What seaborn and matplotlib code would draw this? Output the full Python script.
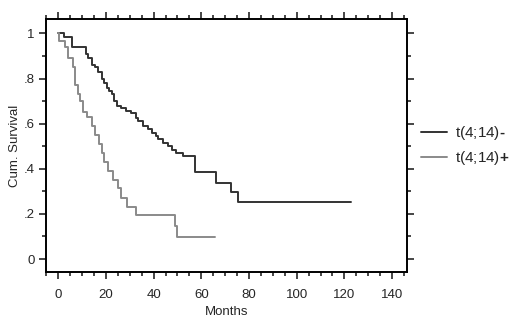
import matplotlib
matplotlib.use("Agg")
import matplotlib.pyplot as plt
import seaborn as sns
import pandas as pd
from matplotlib.ticker import MultipleLocator, FixedLocator, FixedFormatter

sns.set_style("ticks")
plt.rcParams['font.family'] = ['Liberation Sans', 'DejaVu Sans']
plt.rcParams['mathtext.fontset'] = 'custom'
plt.rcParams['mathtext.bf'] = 'Liberation Sans:bold'

# t(4;14)- : step times (months) and survival after step
neg_time = [0, 2.5, 5.7, 11.7, 12.7, 14.3, 15.3, 16.8, 18.3, 19.4, 20.4, 21.4, 22.4, 23.4, 24.5, 26.5,
            28.5, 30.6, 32.6, 33.6, 35.7, 37.7, 39.2, 40.8, 41.8, 43.8, 45.9, 47.9, 49.4, 52.5, 57.4,
            66.3, 72.4, 75.4, 122.7]
neg_surv = [1.0, 0.985, 0.94, 0.91, 0.89, 0.86, 0.85, 0.83, 0.80, 0.78, 0.76, 0.745, 0.73, 0.70, 0.68,
            0.67, 0.655, 0.645, 0.625, 0.61, 0.59, 0.575, 0.56, 0.545, 0.53, 0.515, 0.50, 0.485, 0.47,
            0.455, 0.387, 0.338, 0.298, 0.253, 0.253]

# t(4;14)+ : step times (months) and survival after step
pos_time = [0, 0.5, 3, 4.1, 6.1, 7.1, 8.2, 9.2, 10.2, 12.2, 14.3, 15.3, 17.3, 18.3, 19.4, 20.9, 22.9,
            25.0, 26.5, 29.0, 32.6, 49.0, 50.0, 65.7]
pos_surv = [1.0, 0.965, 0.94, 0.89, 0.85, 0.77, 0.73, 0.70, 0.65, 0.63, 0.59, 0.55, 0.51, 0.47,
            0.43, 0.39, 0.35, 0.315, 0.27, 0.23, 0.195, 0.145, 0.098, 0.098]

groups = ["t(4;14)$\\mathbf{\u2010}$", "t(4;14)$\\mathbf{+}$"]
colors = ["#333333", "#8a8a8a"]

df = pd.concat([
    pd.DataFrame({"Months": neg_time, "Surv": neg_surv, "group": groups[0]}),
    pd.DataFrame({"Months": pos_time, "Surv": pos_surv, "group": groups[1]}),
])

fig = plt.figure(figsize=(5.2, 3.2), dpi=100)
ax = fig.add_axes([0.0885, 0.15, 0.694, 0.79])

sns.lineplot(data=df, x="Months", y="Surv", hue="group", palette=colors,
             drawstyle="steps-post", linewidth=1.4, estimator=None, sort=True, ax=ax)

ax.set_xlim(-5.1, 146.2)
ax.set_ylim(-0.0576, 1.063)
ax.xaxis.set_major_locator(MultipleLocator(20))
ax.xaxis.set_minor_locator(MultipleLocator(5))
ax.yaxis.set_major_locator(FixedLocator([0, 0.2, 0.4, 0.6, 0.8, 1.0]))
ax.yaxis.set_major_formatter(FixedFormatter(["0", ".2", ".4", ".6", ".8", "1"]))
ax.yaxis.set_minor_locator(MultipleLocator(0.1))

ax.tick_params(which="both", direction="out", top=True, right=True, width=1.2, labelsize=9.5,
               labeltop=False, labelright=False)
ax.tick_params(which="major", length=5)
ax.tick_params(axis="x", which="major", pad=7)
ax.tick_params(axis="y", which="major", pad=3)
ax.tick_params(which="minor", length=3)
for s in ax.spines.values():
    s.set_linewidth(1.4)
    s.set_color("black")

ax.set_xlabel("Months", fontsize=9.5, labelpad=4)
ax.set_ylabel("Cum. Survival", fontsize=9.5, labelpad=2)

leg = ax.legend(loc="center left", bbox_to_anchor=(1.0, 0.50), frameon=False, fontsize=11,
                handlelength=1.7, handletextpad=0.55, labelspacing=0.45)
leg.set_title(None)

fig.savefig("out.png", dpi=100)
